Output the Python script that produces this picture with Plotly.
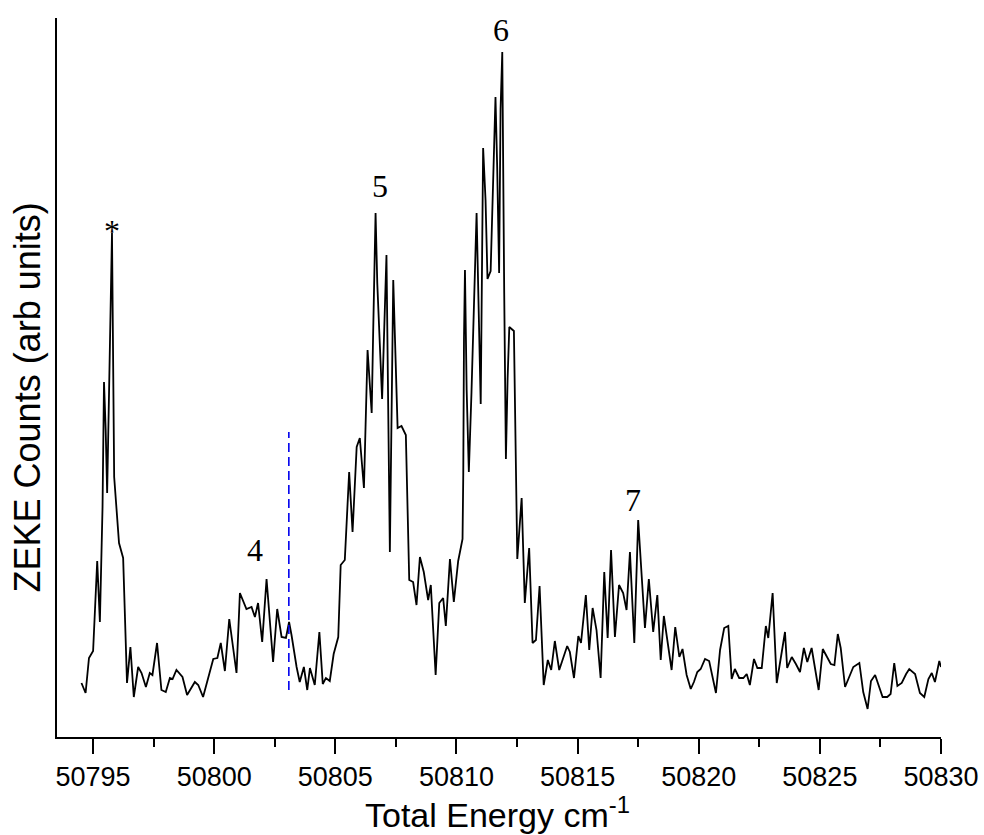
import plotly.graph_objects as go

# ZEKE spectrum: total energy (cm^-1) vs. ZEKE counts (arbitrary units)
energy = [
    50794.52, 50794.69, 50794.83, 50795.00, 50795.17, 50795.28, 50795.39, 50795.45,
    50795.52, 50795.58, 50795.66, 50795.72, 50795.78, 50795.87, 50796.07, 50796.24,
    50796.40, 50796.54, 50796.68, 50796.86, 50797.00, 50797.18, 50797.34, 50797.45,
    50797.64, 50797.82, 50798.00, 50798.17, 50798.28, 50798.44, 50798.69, 50798.88,
    50799.20, 50799.34, 50799.54, 50799.96, 50800.13, 50800.27, 50800.44, 50800.62,
    50800.92, 50801.06, 50801.33, 50801.54, 50801.68, 50801.81, 50801.98, 50802.16,
    50802.43, 50802.60, 50802.78, 50802.96, 50803.09, 50803.19, 50803.40, 50803.53,
    50803.70, 50803.84, 50803.95, 50804.15, 50804.34, 50804.48, 50804.61, 50804.77,
    50804.93, 50805.12, 50805.22, 50805.39, 50805.57, 50805.71, 50805.88, 50806.01,
    50806.18, 50806.33, 50806.50, 50806.56, 50806.66, 50806.73, 50806.93, 50807.11,
    50807.25, 50807.39, 50807.57, 50807.73, 50807.91, 50808.05, 50808.21, 50808.35,
    50808.49, 50808.65, 50808.83, 50808.94, 50809.14, 50809.29, 50809.45, 50809.56,
    50809.73, 50809.89, 50810.07, 50810.25, 50810.28, 50810.31, 50810.35, 50810.42,
    50810.51, 50810.62, 50810.73, 50810.83, 50811.00, 50811.04, 50811.10, 50811.20,
    50811.28, 50811.41, 50811.56, 50811.61, 50811.68, 50811.76, 50811.82, 50811.89,
    50811.97, 50812.04, 50812.11, 50812.18, 50812.37, 50812.51, 50812.69, 50812.82,
    50813.00, 50813.14, 50813.28, 50813.43, 50813.60, 50813.77, 50813.91, 50814.06,
    50814.24, 50814.41, 50814.57, 50814.68, 50814.85, 50815.03, 50815.14, 50815.34,
    50815.48, 50815.62, 50815.78, 50815.95, 50816.10, 50816.24, 50816.38, 50816.54,
    50816.71, 50816.88, 50817.02, 50817.16, 50817.34, 50817.50, 50817.78, 50817.94,
    50818.12, 50818.29, 50818.43, 50818.56, 50818.74, 50818.88, 50819.03, 50819.20,
    50819.33, 50819.50, 50819.67, 50819.80, 50819.94, 50820.08, 50820.26, 50820.43,
    50820.71, 50820.88, 50821.05, 50821.22, 50821.36, 50821.49, 50821.67, 50821.84,
    50821.98, 50822.11, 50822.28, 50822.42, 50822.60, 50822.77, 50822.87, 50823.05,
    50823.22, 50823.56, 50823.65, 50823.84, 50824.01, 50824.18, 50824.34, 50824.48,
    50824.66, 50824.95, 50825.12, 50825.28, 50825.45, 50825.60, 50825.74, 50825.86,
    50826.04, 50826.38, 50826.63, 50826.79, 50826.97, 50827.11, 50827.28, 50827.59,
    50827.78, 50827.92, 50828.07, 50828.20, 50828.38, 50828.56, 50828.69, 50828.93,
    50829.13, 50829.31, 50829.48, 50829.62, 50829.75, 50829.93, 50830.00,
]

counts = [
    54, 44, 79, 86, 176, 115, 230, 355,
    307, 244, 347, 450, 504, 260, 194, 179,
    54, 90, 40, 70, 64, 50, 64, 62,
    94, 47, 45, 59, 58, 67, 60, 42,
    55, 52, 40, 78, 79, 94, 66, 118,
    64, 144, 128, 130, 120, 134, 95, 158,
    75, 128, 100, 99, 115, 102, 70, 55,
    70, 47, 69, 52, 105, 53, 59, 56,
    83, 100, 172, 177, 265, 205, 290, 299,
    249, 387, 324, 404, 524, 454, 338, 482,
    185, 457, 309, 311, 302, 157, 155, 132,
    180, 165, 137, 152, 62, 134, 139, 111,
    178, 135, 176, 198, 263, 399, 467, 347,
    265, 345, 436, 524, 333, 462, 589, 537,
    458, 466, 607, 640, 570, 464, 628, 685,
    444, 278, 358, 410, 406, 178, 239, 134,
    189, 94, 97, 151, 52, 77, 67, 96,
    67, 80, 91, 85, 59, 101, 94, 142,
    87, 129, 107, 59, 165, 99, 187, 100,
    152, 144, 127, 185, 94, 217, 109, 158,
    105, 142, 77, 121, 89, 67, 110, 80,
    88, 62, 48, 55, 65, 68, 78, 76,
    44, 87, 109, 111, 58, 68, 59, 59,
    63, 52, 78, 69, 69, 111, 99, 144,
    54, 105, 69, 80, 73, 65, 89, 75,
    89, 47, 88, 80, 73, 72, 103, 89,
    50, 70, 74, 45, 28, 56, 62, 40,
    40, 43, 74, 51, 54, 63, 68, 63,
    44, 40, 58, 64, 55, 76, 70,
]

# Peak labels
peak_labels = ["*", "4", "5", "6", "7"]
peak_energy = [50795.78, 50801.70, 50806.84, 50811.83, 50817.30]
peak_label_y = [506, 187, 551, 707, 237]

# Dashed marker line
marker_energy = 50803.08
marker_y = [47, 305]

x_range = [50793.51, 50830.0]
y_range = [0, 719]

fig = go.Figure()

fig.add_trace(go.Scatter(
    x=energy, y=counts, mode="lines",
    line=dict(color="black", width=1.8),
    hoverinfo="skip",
))

fig.add_trace(go.Scatter(
    x=[marker_energy, marker_energy], y=marker_y, mode="lines",
    line=dict(color="#0000ee", width=1.6, dash="9px,5px"),
    hoverinfo="skip",
))

for lbl, ex, ey in zip(peak_labels, peak_energy, peak_label_y):
    fig.add_annotation(
        x=ex, y=ey, xref="x", yref="y", text=lbl, showarrow=False,
        xanchor="center", yanchor="middle",
        font=dict(family="Liberation Serif, Times New Roman, serif", size=32, color="black"),
    )

# Axis titles
fig.add_annotation(
    x=-0.033, y=0.472, xref="paper", yref="paper",
    text="ZEKE Counts (arb units)", textangle=-90, showarrow=False,
    xanchor="center", yanchor="middle",
    font=dict(family="Liberation Sans, Arial, sans-serif", size=36, color="black"),
)
fig.add_annotation(
    x=0.498, y=-0.105, xref="paper", yref="paper",
    text="Total Energy cm<sup>-1</sup>", showarrow=False,
    xanchor="center", yanchor="middle",
    font=dict(family="Liberation Sans, Arial, sans-serif", size=34, color="black"),
)

fig.update_layout(
    width=984, height=835,
    margin=dict(l=57, r=43, t=18, b=98),
    plot_bgcolor="white", paper_bgcolor="white",
    showlegend=False,
)

fig.update_xaxes(
    range=x_range, showline=True, linecolor="black", linewidth=2,
    ticks="outside", ticklen=15, tickwidth=2, tickcolor="black",
    tick0=50795, dtick=5, tickformat="d", automargin=False,
    tickfont=dict(family="Liberation Sans, Arial, sans-serif", size=27, color="black"),
    showgrid=False, zeroline=False,
    minor=dict(ticks="outside", ticklen=8, tickwidth=2, tickcolor="black",
               tick0=50795, dtick=2.5, showgrid=False),
)
fig.update_yaxes(
    range=y_range, showline=True, linecolor="black", linewidth=2,
    ticks="", showticklabels=False, showgrid=False, zeroline=False,
    automargin=False,
)

fig.write_html("out.html")
